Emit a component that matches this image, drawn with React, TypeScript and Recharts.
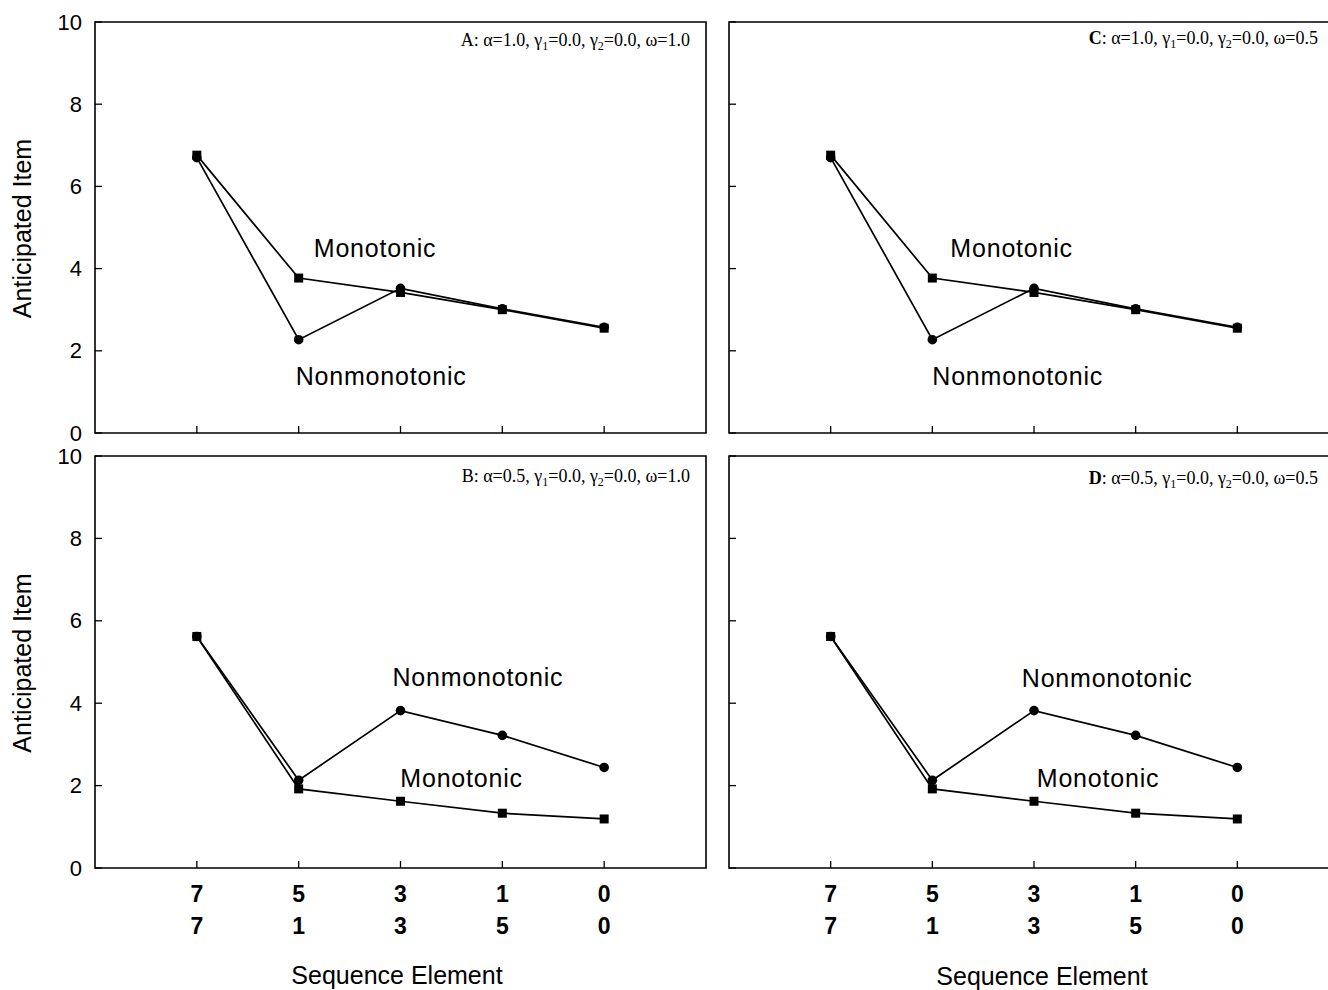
import React from "react"
import { LineChart, Line, XAxis, YAxis, ReferenceArea, ReferenceDot } from "recharts"

const SANS = "'Liberation Sans', Arial, Helvetica, sans-serif"
const SERIF = "'Liberation Serif', 'Times New Roman', serif"

// x positions of the five sequence elements, and the two label rows under them
const positions = [1, 2, 3, 4, 5]
const firstRowLabels = ["7", "5", "3", "1", "0"]
const secondRowLabels = ["7", "1", "3", "5", "0"]
const yTicks = [0, 2, 4, 6, 8, 10]

// panel A
const nonmonoA = [6.7, 2.27, 3.52, 3.02, 2.57]
const monoA = [6.76, 3.77, 3.42, 3.0, 2.55]
// panel C
const nonmonoC = [6.7, 2.27, 3.52, 3.02, 2.57]
const monoC = [6.76, 3.77, 3.42, 3.0, 2.55]
// panel B
const nonmonoB = [5.62, 2.13, 3.82, 3.22, 2.44]
const monoB = [5.62, 1.92, 1.62, 1.33, 1.19]
// panel D
const nonmonoD = [5.62, 2.13, 3.82, 3.22, 2.44]
const monoD = [5.62, 1.92, 1.62, 1.33, 1.19]

const rows = (nonmono: number[], mono: number[]) =>
  positions.map((p, i) => ({ pos: p, nonmono: nonmono[i], mono: mono[i] }))

interface Panel {
  key: string
  left: number
  top: number
  width: number
  height: number
  marginTop: number
  marginRight: number
  yAxisWidth: number
  xAxisHeight: number
  yText: boolean
  xText: boolean
  letter: string
  bold: boolean
  alpha: string
  omega: string
  inset: number
  annoDy: number
  titleDx: number
  titleDy: number
  data: { pos: number; nonmono: number; mono: number }[]
  names: { text: string; x: number; y: number }[]
}

const panels: Panel[] = [
  {
    key: "A", left: 0, top: 0, width: 716, height: 446, marginTop: 22, marginRight: 10,
    yAxisWidth: 95, xAxisHeight: 13, yText: true, xText: false,
    letter: "A", bold: false, alpha: "1.0", omega: "1.0", inset: 16, annoDy: 24,
    titleDx: 0, titleDy: 0,
    data: rows(nonmonoA, monoA),
    names: [
      { text: "Monotonic", x: 2.75, y: 4.5 },
      { text: "Nonmonotonic", x: 2.81, y: 1.39 },
    ],
  },
  {
    key: "C", left: 718, top: 0, width: 621, height: 446, marginTop: 22, marginRight: 0,
    yAxisWidth: 11, xAxisHeight: 13, yText: false, xText: false,
    letter: "C", bold: true, alpha: "1.0", omega: "0.5", inset: 21, annoDy: 22,
    titleDx: 0, titleDy: 0,
    data: rows(nonmonoC, monoC),
    names: [
      { text: "Monotonic", x: 2.78, y: 4.5 },
      { text: "Nonmonotonic", x: 2.84, y: 1.39 },
    ],
  },
  {
    key: "B", left: 0, top: 440, width: 716, height: 550, marginTop: 16, marginRight: 10,
    yAxisWidth: 95, xAxisHeight: 122, yText: true, xText: true,
    letter: "B", bold: false, alpha: "0.5", omega: "1.0", inset: 16, annoDy: 26,
    titleDx: -3.5, titleDy: 107,
    data: rows(nonmonoB, monoB),
    names: [
      { text: "Nonmonotonic", x: 3.76, y: 4.64 },
      { text: "Monotonic", x: 3.6, y: 2.18 },
    ],
  },
  {
    key: "D", left: 718, top: 440, width: 621, height: 550, marginTop: 16, marginRight: 0,
    yAxisWidth: 11, xAxisHeight: 122, yText: false, xText: true,
    letter: "D", bold: true, alpha: "0.5", omega: "0.5", inset: 21, annoDy: 28,
    titleDx: 8, titleDy: 108,
    data: rows(nonmonoD, monoD),
    names: [
      { text: "Nonmonotonic", x: 3.72, y: 4.61 },
      { text: "Monotonic", x: 3.63, y: 2.18 },
    ],
  },
]

// tick marks point into the plot; axisX / axisY are the plot edges of the panel
const makeYTick = (axisX: number, showText: boolean) => (props: any) => {
  const { y, payload } = props
  return (
    <g>
      <line x1={axisX} x2={axisX + 7} y1={y} y2={y} stroke="#000" strokeWidth={1.3} />
      {showText && (
        <text x={axisX - 13} y={y} textAnchor="end" dominantBaseline="central" fontSize={22} fontFamily={SANS} fill="#000">
          {payload.value}
        </text>
      )}
    </g>
  )
}

const makeXTick = (axisY: number, showText: boolean) => (props: any) => {
  const { x, payload } = props
  const i = positions.indexOf(payload.value)
  return (
    <g>
      <line x1={x} x2={x} y1={axisY} y2={axisY - 7} stroke="#000" strokeWidth={1.3} />
      {showText && i >= 0 && (
        <g fontSize={23} fontWeight="bold" fontFamily={SANS} fill="#000" textAnchor="middle">
          <text x={x} y={axisY + 26} dominantBaseline="central">{firstRowLabels[i]}</text>
          <text x={x} y={axisY + 58} dominantBaseline="central">{secondRowLabels[i]}</text>
        </g>
      )}
    </g>
  )
}

const squareDot = (props: any) => {
  const { cx, cy, index } = props
  if (cx == null || cy == null) return <g key={index} />
  return <rect key={index} x={cx - 4.5} y={cy - 4.5} width={9} height={9} fill="#000" />
}

const circleDot = (props: any) => {
  const { cx, cy, index } = props
  if (cx == null || cy == null) return <g key={index} />
  return <circle key={index} cx={cx} cy={cy} r={4.8} fill="#000" />
}

function PanelChart({ p }: { p: Panel }) {
  const axisX = p.yAxisWidth
  const axisY = p.height - p.xAxisHeight

  const annotation = (props: any) => {
    const vb = props.viewBox
    if (!vb) return null
    return (
      <text
        x={vb.x + vb.width - p.inset}
        y={vb.y + p.annoDy}
        textAnchor="end"
        fontFamily={SERIF}
        fontSize={18}
        fill="#000"
      >
        <tspan fontWeight={p.bold ? "bold" : "normal"}>{p.letter}</tspan>
        <tspan>{`: α=${p.alpha}, γ`}</tspan>
        <tspan dy={4} fontSize={12}>1</tspan>
        <tspan dy={-4}>=0.0, γ</tspan>
        <tspan dy={4} fontSize={12}>2</tspan>
        <tspan dy={-4}>{`=0.0, ω=${p.omega}`}</tspan>
      </text>
    )
  }

  const yLabel = (props: any) => {
    const vb = props.viewBox
    if (!vb || !p.yText) return null
    const cx = vb.x + 22
    const cy = vb.y + vb.height / 2 + 1
    return (
      <text
        x={cx}
        y={cy}
        transform={`rotate(-90, ${cx}, ${cy})`}
        textAnchor="middle"
        dominantBaseline="central"
        fontSize={25}
        fontFamily={SANS}
        fill="#000"
      >
        Anticipated Item
      </text>
    )
  }

  const xLabel = (props: any) => {
    const vb = props.viewBox
    if (!vb || !p.xText) return null
    return (
      <text
        x={vb.x + vb.width / 2 + p.titleDx}
        y={axisY + p.titleDy}
        textAnchor="middle"
        dominantBaseline="central"
        fontSize={25}
        fontFamily={SANS}
        fill="#000"
      >
        Sequence Element
      </text>
    )
  }

  return (
    <div style={{ position: "absolute", left: p.left, top: p.top }}>
      <LineChart
        width={p.width}
        height={p.height}
        data={p.data}
        margin={{ top: p.marginTop, right: p.marginRight, bottom: 0, left: 0 }}
      >
        <XAxis
          dataKey="pos"
          type="number"
          domain={[0, 6]}
          ticks={positions}
          axisLine={false}
          tickLine={false}
          height={p.xAxisHeight}
          tick={makeXTick(axisY, p.xText)}
          interval={0}
          label={xLabel}
        />
        <YAxis
          type="number"
          domain={[0, 10]}
          ticks={yTicks}
          axisLine={false}
          tickLine={false}
          width={p.yAxisWidth}
          tick={makeYTick(axisX, p.yText)}
          interval={0}
          label={yLabel}
        />
        <ReferenceArea
          x1={0}
          x2={6}
          y1={0}
          y2={10}
          fill="none"
          fillOpacity={0}
          stroke="#000"
          strokeWidth={1.6}
          ifOverflow="visible"
          label={annotation}
        />
        <Line
          type="linear"
          dataKey="mono"
          stroke="#000"
          strokeWidth={1.7}
          dot={squareDot}
          activeDot={false}
          isAnimationActive={false}
        />
        <Line
          type="linear"
          dataKey="nonmono"
          stroke="#000"
          strokeWidth={1.7}
          dot={circleDot}
          activeDot={false}
          isAnimationActive={false}
        />
        {p.names.map((n) => (
          <ReferenceDot
            key={n.text}
            x={n.x}
            y={n.y}
            r={0}
            fill="none"
            stroke="none"
            ifOverflow="visible"
            label={{ value: n.text, position: "center", fontSize: 25, fill: "#000", fontFamily: SANS, letterSpacing: 0.8 }}
          />
        ))}
      </LineChart>
    </div>
  )
}

export default function App() {
  return (
    <div
      style={{
        position: "fixed",
        left: 0,
        top: 0,
        width: 1328,
        height: 990,
        overflow: "hidden",
        background: "#fff",
        fontFamily: SANS,
      }}
    >
      {panels.map((p) => (
        <PanelChart key={p.key} p={p} />
      ))}
    </div>
  )
}
